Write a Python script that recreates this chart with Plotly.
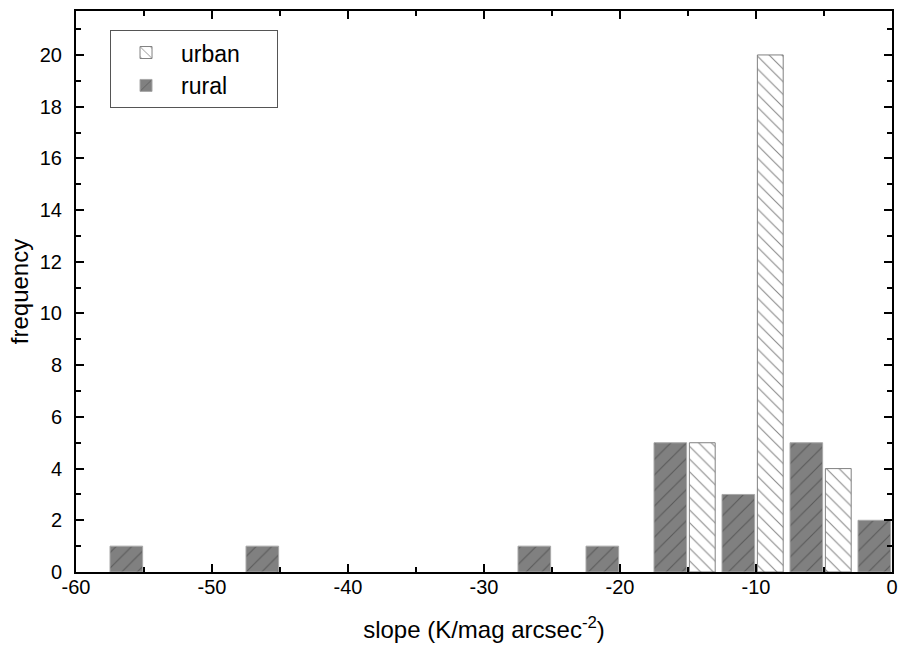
import plotly.graph_objects as go

bin_centers = [-55, -45, -25, -20, -15, -10, -5, 0]
rural_counts = [1, 1, 1, 1, 5, 3, 5, 2]
urban_bins = [-15, -10, -5]
urban_counts = [5, 20, 4]
x_tick_vals = [-60, -50, -40, -30, -20, -10, 0]
x_tick_text = ["-60", "-50", "-40", "-30", "-20", "-10", "0"]
y_tick_vals = [0, 2, 4, 6, 8, 10, 12, 14, 16, 18, 20]
y_tick_text = ["0", "2", "4", "6", "8", "10", "12", "14", "16", "18", "20"]

FONT = "Liberation Sans, Arial, sans-serif"
PAD = "\u00a0\u00a0\u00a0\u00a0\u00a0"

fig = go.Figure()
fig.add_trace(go.Bar(
    x=urban_bins, y=urban_counts, name="urban" + PAD,
    width=1.9, offset=0.1,
    marker=dict(color="white", line=dict(color="#808080", width=1),
                pattern=dict(shape="\\", fgcolor="#111111", bgcolor="white",
                             size=9, solidity=0.12, fillmode="overlay")),
))
fig.add_trace(go.Bar(
    x=bin_centers, y=rural_counts, name="rural",
    width=2.4, offset=-2.5,
    marker=dict(color="#808080", line=dict(color="#a8a8a8", width=1),
                pattern=dict(shape="/", fgcolor="#333333", bgcolor="#808080",
                             size=11, solidity=0.1, fillmode="overlay")),
))

axis_common = dict(
    showline=True, linecolor="black", linewidth=2, mirror="allticks",
    ticks="inside", ticklen=8, tickwidth=2, tickcolor="black",
    showgrid=False, zeroline=False, automargin=False,
    tickfont=dict(family=FONT, size=20, color="black"),
)
fig.update_xaxes(
    range=[-60, 0], tickmode="array", tickvals=x_tick_vals, ticktext=x_tick_text,
    ticklabelstandoff=-4,
    minor=dict(ticks="inside", ticklen=5, tickwidth=1.5, tickcolor="black",
               tickmode="linear", tick0=-60, dtick=5, showgrid=False),
    title=dict(text="slope (K/mag arcsec<sup>-2</sup>)",
               font=dict(family=FONT, size=24, color="black"), standoff=24),
    **axis_common,
)
fig.update_yaxes(
    range=[0, 21.7], tickmode="array", tickvals=y_tick_vals, ticktext=y_tick_text,
    ticklabelstandoff=8,
    minor=dict(ticks="inside", ticklen=5, tickwidth=1.5, tickcolor="black",
               tickmode="linear", tick0=0, dtick=1, showgrid=False),
    title=dict(text="frequency", font=dict(family=FONT, size=24, color="black"), standoff=4),
    **axis_common,
)
fig.update_layout(
    width=899, height=646, autosize=False,
    margin=dict(l=76, r=7, t=11, b=74),
    plot_bgcolor="white", paper_bgcolor="white",
    barmode="overlay",
    showlegend=True,
    legend=dict(x=0.0417, y=0.966, xanchor="left", yanchor="top",
                bordercolor="#555555", borderwidth=1, bgcolor="white",
                font=dict(family=FONT, size=23, color="black"),
                itemwidth=60, tracegroupgap=0, traceorder="normal"),
    font=dict(family=FONT),
)
fig.write_html(
    "out.html",
    config={"responsive": False, "displayModeBar": False},
    post_script="document.body.style.margin='0';document.body.style.overflow='hidden';",
)
